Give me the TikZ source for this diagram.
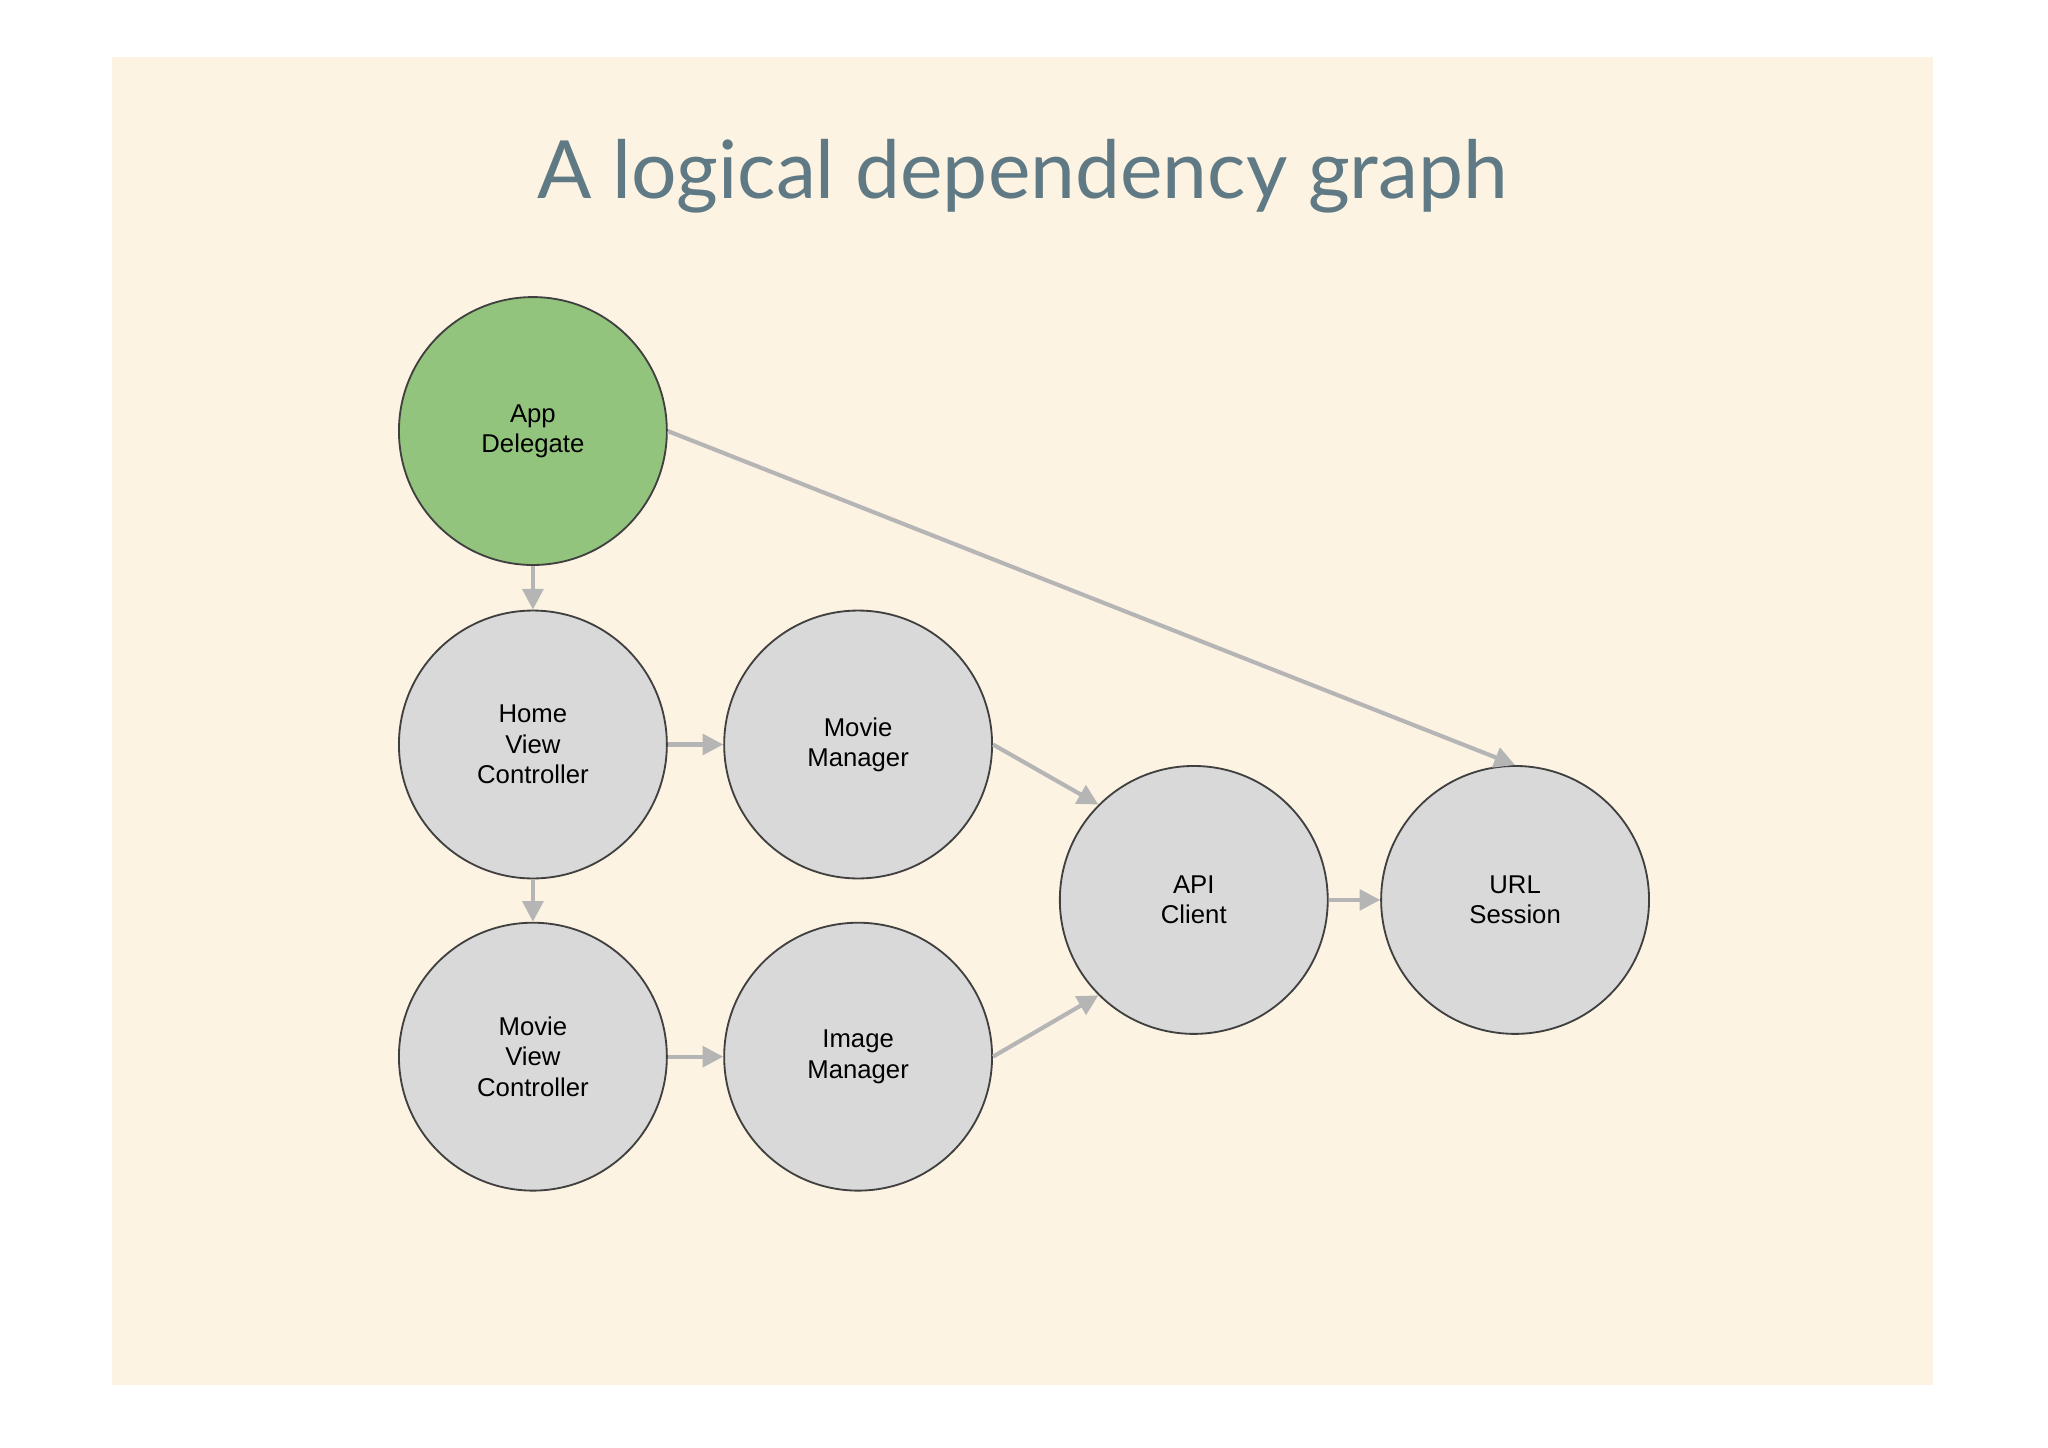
\documentclass[tikz,border=0pt]{standalone}
\usepackage{fontspec}
\setmainfont{Liberation Sans}
\newfontfamily\titlefont{Lato}
\usetikzlibrary{arrows.meta}
\definecolor{bg}{HTML}{FDF3E3}
\definecolor{green1}{HTML}{93C47D}
\definecolor{grayc}{HTML}{D9D9D9}
\definecolor{edgec}{HTML}{B5B5B5}
\definecolor{titlec}{HTML}{5F7A84}
\begin{document}
\begin{tikzpicture}[x=0.01cm,y=-0.01cm,
  circ/.style={circle,draw=black!75,line width=0.4pt,fill=grayc,minimum size=2.05cm,inner sep=0pt,align=center,font=\fontsize{5.6}{6.6}\selectfont},
  dep/.style={draw=edgec,line width=0.9pt,-{Triangle[length=4.5pt,width=4.5pt]}}]
\useasboundingbox (0,0) rectangle (1568,1108);
\fill[white] (0,0) rectangle (1568,1108);
\fill[bg] (86,44) rectangle (1480,1060);
\node[text=titlec,font=\titlefont\fontsize{17.5}{20}\selectfont] (title) at (783,135) {A logical dependency graph};
\node[circ,fill=green1] (app) at (408,330) {App\\Delegate};
\node[circ] (home) at (408,570) {Home\\View\\Controller};
\node[circ] (mm) at (657,570) {Movie\\Manager};
\node[circ] (mvc) at (408,809) {Movie\\View\\Controller};
\node[circ] (im) at (657,809) {Image\\Manager};
\node[circ] (api) at (914,689) {API\\Client};
\node[circ] (url) at (1160,689) {URL\\Session};
\draw[dep] (app.south) -- (home.north);
\draw[dep] (home.south) -- (mvc.north);
\draw[dep] (home.east) -- (mm.west);
\draw[dep] (mvc.east) -- (im.west);
\draw[dep] (mm.east) -- (api.135);
\draw[dep] (im.east) -- (api.-135);
\draw[dep] (api.east) -- (url.west);
\draw[dep] (app.east) -- (url.north);
\end{tikzpicture}
\end{document}
